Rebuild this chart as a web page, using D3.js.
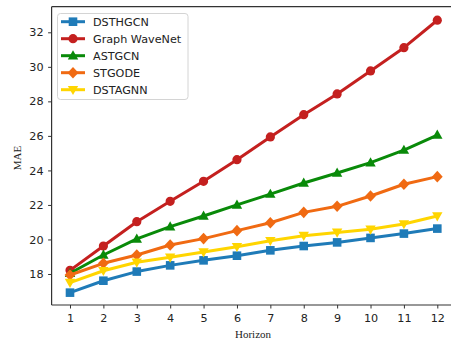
<!DOCTYPE html>
<html>
<head>
<meta charset="utf-8">
<script src="https://cdn.jsdelivr.net/npm/d3@7"></script>
<style>
  body { margin: 0; background: #fff; }
  svg text { font-family: "DejaVu Sans", sans-serif; fill: #222; }
</style>
</head>
<body>
<svg id="chart" width="451" height="345"></svg>
<script>
//////////////////////////////////////
// Data

var horizons = [1, 2, 3, 4, 5, 6, 7, 8, 9, 10, 11, 12];
var seriesNames = ["DSTHGCN", "Graph WaveNet", "ASTGCN", "STGODE", "DSTAGNN"];
var dsthgcn = [16.92, 17.61, 18.14, 18.50, 18.79, 19.06, 19.37, 19.62, 19.83, 20.09, 20.34, 20.63];
var graphWaveNet = [18.21, 19.62, 21.03, 22.21, 23.37, 24.62, 25.94, 27.23, 28.43, 29.76, 31.11, 32.70];
var astgcn = [18.04, 19.10, 20.03, 20.74, 21.36, 22.00, 22.63, 23.27, 23.85, 24.45, 25.18, 26.05];
var stgode = [17.94, 18.62, 19.10, 19.68, 20.05, 20.51, 20.97, 21.57, 21.92, 22.52, 23.20, 23.64];
var dstagnn = [17.50, 18.19, 18.68, 18.97, 19.27, 19.58, 19.93, 20.22, 20.41, 20.59, 20.90, 21.36];
var yTicks = [18, 20, 22, 24, 26, 28, 30, 32];

var colors = ["#1f7bb8", "#c4201f", "#098a09", "#f06a12", "#ffd500"];
var markers = ["square", "circle", "triangle", "diamond", "triangleDown"];
var allValues = [dsthgcn, graphWaveNet, astgcn, stgode, dstagnn];

//////////////////////////////////////
// Scales

var svg = d3.select("#chart");
var plotLeft = 51.6, plotRight = 456, plotTop = 6.7, plotBottom = 305;

var x = d3.scaleLinear().domain([0.449, 12.56]).range([plotLeft, plotRight]);
var y = d3.scaleLinear().domain([16.204, 33.483]).range([plotBottom, plotTop]);

// axes
var xAxis = svg.append("g")
  .attr("transform", "translate(0," + plotBottom + ")")
  .call(d3.axisBottom(x).tickValues(horizons).tickSize(3.5).tickPadding(6).tickFormat(d3.format("d")));
var yAxis = svg.append("g")
  .attr("transform", "translate(" + plotLeft + ",0)")
  .call(d3.axisLeft(y).tickValues(yTicks).tickSize(3.5).tickPadding(4.5).tickFormat(d3.format("d")));

[xAxis, yAxis].forEach(function(a) {
  a.select(".domain").remove();
  a.selectAll("line").attr("stroke", "#333");
  a.selectAll("text").style("font-size", "11.2px").attr("fill", "#222");
});

// spines
svg.append("line").attr("x1", plotLeft).attr("x2", plotLeft).attr("y1", plotTop).attr("y2", plotBottom).attr("stroke", "#333").attr("stroke-width", 1.2);
svg.append("line").attr("x1", plotLeft).attr("x2", 451).attr("y1", plotBottom).attr("y2", plotBottom).attr("stroke", "#333").attr("stroke-width", 1.2);
svg.append("line").attr("x1", plotLeft).attr("x2", 451).attr("y1", plotTop).attr("y2", plotTop).attr("stroke", "#333").attr("stroke-width", 1.2);

// axis labels
svg.append("text").attr("x", 253).attr("y", 338)
  .attr("text-anchor", "middle")
  .style("font-family", "'Liberation Serif', serif").style("font-size", "11px")
  .text("Horizon");
svg.append("text").attr("transform", "translate(21,158) rotate(-90)")
  .attr("text-anchor", "middle")
  .style("font-family", "'Liberation Serif', serif").style("font-size", "11px")
  .text("MAE");

//////////////////////////////////////
// Markers

function markerPath(type, cx, cy) {
  var p = d3.path();
  if (type == "square") {
    p.rect(cx - 4.3, cy - 4.3, 8.6, 8.6);
  } else if (type == "circle") {
    p.arc(cx, cy, 4.6, 0, 2 * Math.PI);
  } else if (type == "triangle") {
    p.moveTo(cx, cy - 5.4); p.lineTo(cx + 5.2, cy + 3.8); p.lineTo(cx - 5.2, cy + 3.8); p.closePath();
  } else if (type == "triangleDown") {
    p.moveTo(cx, cy + 5.4); p.lineTo(cx + 5.2, cy - 3.8); p.lineTo(cx - 5.2, cy - 3.8); p.closePath();
  } else if (type == "diamond") {
    p.moveTo(cx, cy - 5.8); p.lineTo(cx + 5.4, cy); p.lineTo(cx, cy + 5.8); p.lineTo(cx - 5.4, cy); p.closePath();
  }
  return p.toString();
}

var line = d3.line().x(function(d) { return x(d[0]); }).y(function(d) { return y(d[1]); });

allValues.forEach(function(vals, i) {
  var pts = horizons.map(function(h, j) { return [h, vals[j]]; });
  var g = svg.append("g");
  g.append("path").datum(pts)
    .attr("d", line).attr("fill", "none")
    .attr("stroke", colors[i]).attr("stroke-width", 3).attr("stroke-linejoin", "round");
  g.selectAll(".m").data(pts).enter().append("path")
    .attr("d", function(d) { return markerPath(markers[i], x(d[0]), y(d[1])); })
    .attr("fill", colors[i]);
});

//////////////////////////////////////
// Legend

var legend = svg.append("g");
legend.append("rect").attr("x", 57.5).attr("y", 13.5).attr("width", 130.5).attr("height", 86)
  .attr("rx", 3).attr("fill", "#fff").attr("fill-opacity", 0.85).attr("stroke", "#d4d4d4");
seriesNames.forEach(function(name, i) {
  var ly = 21.7 + i * 17;
  legend.append("line").attr("x1", 61).attr("x2", 85).attr("y1", ly).attr("y2", ly)
    .attr("stroke", colors[i]).attr("stroke-width", 3);
  legend.append("path").attr("d", markerPath(markers[i], 73, ly)).attr("fill", colors[i]);
  legend.append("text").attr("x", 93).attr("y", ly).attr("dy", "0.36em")
    .style("font-size", "11.2px").text(name);
});
</script>
</body>
</html>
